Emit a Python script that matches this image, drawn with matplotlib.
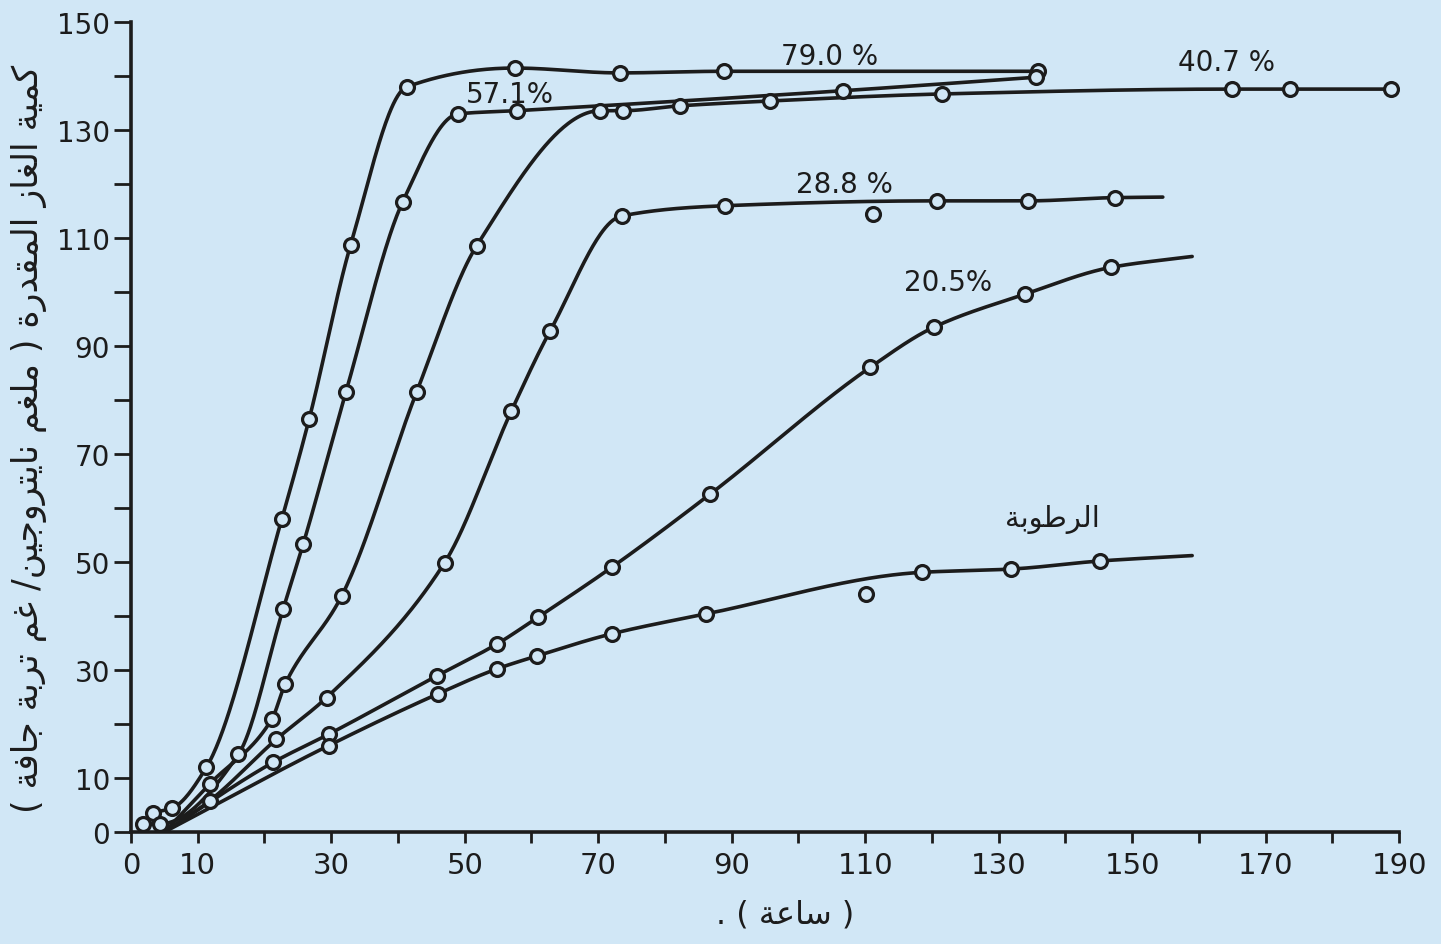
import numpy as np
import matplotlib
matplotlib.use("Agg")
import matplotlib.pyplot as plt

# ---------------- data ----------------
x_ticks_lab = [0, 10, 30, 50, 70, 90, 110, 130, 150, 170, 190]
y_ticks_lab = [0, 10, 30, 50, 70, 90, 110, 130, 150]

labels = ["79.0 %", "57.1%", "40.7 %", "28.8 %", "20.5%", ""]

x_790 = [3.3, 6.1, 11.3, 22.6, 26.7, 32.9, 41.3, 57.5, 73.2, 88.8, 135.9]
y_790 = [3.6, 4.4, 12.0, 58.0, 76.5, 108.7, 138.0, 141.5, 140.6, 140.9, 140.9]

x_571 = [1.8, 4.3, 16.1, 22.8, 25.8, 32.2, 40.7, 49.0, 57.8, 106.7, 135.6]
y_571 = [1.5, 1.5, 14.4, 41.3, 53.3, 81.5, 116.7, 133.0, 133.6, 137.3, 139.8]

x_407 = [11.8, 21.1, 23.1, 31.6, 42.8, 51.8, 70.3, 73.7, 82.2, 95.7, 121.5, 164.9, 173.6, 188.8]
y_407 = [8.9, 20.9, 27.4, 43.8, 81.5, 108.6, 133.6, 133.6, 134.5, 135.4, 136.7, 137.6, 137.6, 137.6]

x_288 = [11.8, 21.8, 29.3, 47.0, 57.0, 62.8, 73.5, 89.0, 111.2, 120.7, 134.4, 147.4]
y_288 = [5.8, 17.2, 24.9, 49.9, 78.0, 92.8, 114.1, 116.0, 114.4, 116.9, 116.9, 117.5]

x_205 = [21.3, 29.6, 45.8, 54.8, 61.0, 72.0, 86.8, 110.8, 120.3, 133.9, 146.9]
y_205 = [12.9, 18.1, 28.9, 34.8, 39.8, 49.0, 62.6, 86.1, 93.5, 99.6, 104.6]

x_low = [29.6, 46.0, 54.8, 60.8, 72.0, 86.2, 110.2, 118.5, 131.8, 145.2]
y_low = [16.0, 25.6, 30.2, 32.6, 36.7, 40.4, 44.1, 48.1, 48.7, 50.2]

# points lying off the drawn curve (x of the stray circle), per series
off_curve = [[], [], [], [111.2], [], [110.2]]
# start / end of each drawn curve where no circle is drawn
curve_start = [None, None, (5.0, 0.0), (5.0, 0.0), (5.0, 0.0), (5.0, 0.0)]
curve_end = [None, None, None, (154.6, 117.6), (159.0, 106.6), (159.0, 51.2)]

# label anchor positions (data units)
lab_x = [104.7, 56.8, 164.2, 106.9, 122.4]
lab_y = [143.7, 136.7, 142.6, 120.0, 101.9]
moist_text = "الرطوبة"
moist_xy = (138.0, 58.0)

ylabel_text = "كمية الغاز المقدرة ( ملغم نايتروجين/ غم تربة جافة )"
xlabel_text = "( ساعة ) ."

# ---------------- helpers ----------------
AR_FORMS = {
    '\u0627': ('\uFE8D', '\uFE8E', None, None),
    '\u0628': ('\uFE8F', '\uFE90', '\uFE91', '\uFE92'),
    '\u0629': ('\uFE93', '\uFE94', None, None),
    '\u062A': ('\uFE95', '\uFE96', '\uFE97', '\uFE98'),
    '\u062C': ('\uFE9D', '\uFE9E', '\uFE9F', '\uFEA0'),
    '\u062F': ('\uFEA9', '\uFEAA', None, None),
    '\u0631': ('\uFEAD', '\uFEAE', None, None),
    '\u0632': ('\uFEAF', '\uFEB0', None, None),
    '\u0633': ('\uFEB1', '\uFEB2', '\uFEB3', '\uFEB4'),
    '\u0637': ('\uFEC1', '\uFEC2', '\uFEC3', '\uFEC4'),
    '\u0639': ('\uFEC9', '\uFECA', '\uFECB', '\uFECC'),
    '\u063A': ('\uFECD', '\uFECE', '\uFECF', '\uFED0'),
    '\u0641': ('\uFED1', '\uFED2', '\uFED3', '\uFED4'),
    '\u0642': ('\uFED5', '\uFED6', '\uFED7', '\uFED8'),
    '\u0643': ('\uFED9', '\uFEDA', '\uFEDB', '\uFEDC'),
    '\u0644': ('\uFEDD', '\uFEDE', '\uFEDF', '\uFEE0'),
    '\u0645': ('\uFEE1', '\uFEE2', '\uFEE3', '\uFEE4'),
    '\u0646': ('\uFEE5', '\uFEE6', '\uFEE7', '\uFEE8'),
    '\u0648': ('\uFEED', '\uFEEE', None, None),
    '\u064A': ('\uFEF1', '\uFEF2', '\uFEF3', '\uFEF4'),
}


def arabic(s):
    """Contextual shaping + visual (RTL) ordering for matplotlib."""
    out = []
    n = len(s)
    for i, c in enumerate(s):
        if c not in AR_FORMS:
            out.append(c)
            continue
        f = AR_FORMS[c]
        prev = s[i - 1] if i > 0 else None
        nxt = s[i + 1] if i < n - 1 else None
        jp = prev in AR_FORMS and AR_FORMS[prev][2] is not None
        jn = nxt in AR_FORMS and f[2] is not None
        if jp and jn:
            out.append(f[3])
        elif jp:
            out.append(f[1])
        elif jn:
            out.append(f[2])
        else:
            out.append(f[0])
    mirror = {'(': ')', ')': '('}
    return ''.join(mirror.get(c, c) for c in reversed(out))


def pchip(x, y, xs):
    x = np.asarray(x, float)
    y = np.asarray(y, float)
    h = np.diff(x)
    d = np.diff(y) / h
    n = len(x)
    m = np.zeros(n)
    for k in range(1, n - 1):
        if d[k - 1] * d[k] > 0:
            w1 = 2 * h[k] + h[k - 1]
            w2 = h[k] + 2 * h[k - 1]
            m[k] = (w1 + w2) / (w1 / d[k - 1] + w2 / d[k])
    m[0] = d[0]
    m[-1] = d[-1]
    idx = np.clip(np.searchsorted(x, xs) - 1, 0, n - 2)
    t = (xs - x[idx]) / h[idx]
    h00 = 2 * t**3 - 3 * t**2 + 1
    h10 = t**3 - 2 * t**2 + t
    h01 = -2 * t**3 + 3 * t**2
    h11 = t**3 - t**2
    return h00 * y[idx] + h10 * h[idx] * m[idx] + h01 * y[idx + 1] + h11 * h[idx] * m[idx + 1]


# ---------------- figure ----------------
BG = "#d1e7f6"
INK = "#1c1c1c"
plt.rcParams["font.family"] = ["DejaVu Sans"]

fig = plt.figure(figsize=(14.41, 9.45), dpi=100, facecolor=BG)
ax = fig.add_axes([0.0909, 0.1185, 0.880, 0.857])
ax.set_facecolor(BG)

series_x = [x_790, x_571, x_407, x_288, x_205, x_low]
series_y = [y_790, y_571, y_407, y_288, y_205, y_low]

for k in range(6):
    xs = list(series_x[k])
    ys = list(series_y[k])
    lx, ly = [], []
    for a, b in zip(xs, ys):
        if a not in off_curve[k]:
            lx.append(a)
            ly.append(b)
    if curve_start[k] is not None:
        lx.insert(0, curve_start[k][0])
        ly.insert(0, curve_start[k][1])
    if curve_end[k] is not None:
        lx.append(curve_end[k][0])
        ly.append(curve_end[k][1])
    xx = np.linspace(lx[0], lx[-1], 800)
    yy = pchip(lx, ly, xx)
    ax.plot(xx, yy, color=INK, lw=2.6, solid_capstyle="round", zorder=2)
    ax.plot(xs, ys, linestyle="none", marker="o", ms=10, mfc=BG, mec=INK,
            mew=2.3, zorder=3)

for t, x, y in zip(labels[:5], lab_x, lab_y):
    ax.text(x, y, t, fontsize=20, color=INK, ha="center", va="center", zorder=4)
ax.text(moist_xy[0], moist_xy[1], arabic(moist_text), fontsize=21, color=INK,
        ha="center", va="center", zorder=4)

ax.set_xlim(0, 190)
ax.set_ylim(0, 150)
ax.set_xticks(np.arange(0, 191, 10))
ax.set_xticklabels([str(v) if v in x_ticks_lab else "" for v in range(0, 191, 10)])
ax.set_yticks(np.arange(0, 151, 10))
ax.set_yticklabels([str(v) if v in y_ticks_lab else "" for v in range(0, 151, 10)])
for s in ["top", "right"]:
    ax.spines[s].set_visible(False)
for s in ["left", "bottom"]:
    ax.spines[s].set_linewidth(2.6)
    ax.spines[s].set_color(INK)
ax.tick_params(axis="x", direction="out", length=8, width=2, colors=INK,
               labelsize=21, pad=6)
ax.tick_params(axis="y", direction="out", length=12, width=2, colors=INK,
               labelsize=20, pad=3)

fig.text(0.020, 0.535, arabic(ylabel_text), rotation=90, fontsize=25,
         color=INK, ha="center", va="center")
fig.text(0.545, 0.032, arabic(xlabel_text), fontsize=23, color=INK,
         ha="center", va="center")

fig.savefig("out.png", dpi=100, facecolor=BG)
